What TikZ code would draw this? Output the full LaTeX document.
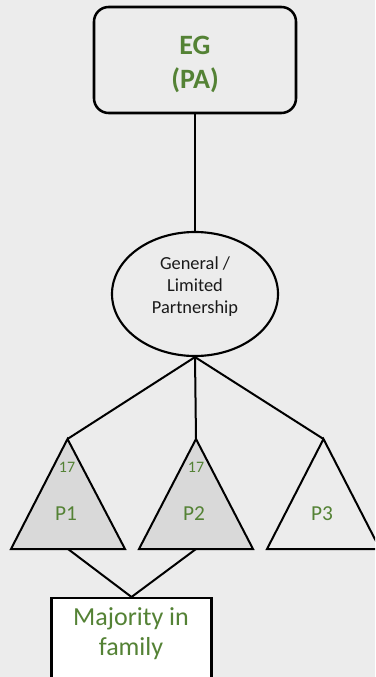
\documentclass[tikz,border=0pt]{standalone}
\usepackage{fontspec}
\setmainfont{Carlito}
\usetikzlibrary{shapes.geometric}
\definecolor{bgc}{HTML}{ECECEC}
\definecolor{grn}{HTML}{548235}
\definecolor{trifill}{HTML}{D9D9D9}
\begin{document}
\begin{tikzpicture}[x=0.75pt,y=-0.75pt,line width=1.5pt,
  conn/.style={draw=black,line width=1.5pt},
  tribox/.style={draw=black,line width=1.5pt,line join=miter},
  egtext/.style={text=grn,align=center,inner sep=0pt,font=\fontsize{21}{25.5}\selectfont\bfseries},
  gptext/.style={text=black!90,align=center,inner sep=0pt,font=\fontsize{13.8}{16.5}\selectfont},
  ptext/.style={text=grn,inner sep=0pt,font=\fontsize{16}{18}\selectfont},
  ntext/.style={text=grn,inner sep=0pt,font=\fontsize{12}{14}\selectfont},
  majtext/.style={text=grn,align=center,inner sep=0pt,font=\fontsize{19.5}{22.5}\selectfont}]
\fill[bgc] (0,0) rectangle (375,677);
\useasboundingbox (0,0) rectangle (375,677);
\clip (0,0) rectangle (375,677);

% top box
\node (eg) [draw,line width=1.9pt,rounded corners=11pt,minimum width=151.5pt,minimum height=79.5pt,inner sep=0pt] at (195,60) {};
\node (egt) [egtext] at (195,64) {EG\\(PA)};

% ellipse
\node (gp) [draw,ellipse,line width=1.6pt,minimum width=124.5pt,minimum height=93pt,inner sep=0pt] at (195,294) {};
\node (gpt) [gptext] at (195,287) {General /\\Limited\\Partnership};

\draw[conn] (eg.south) -- (gp.north);

% triangle corners
\coordinate (p1a) at (67.5,439);
\coordinate (p1l) at (11,549);
\coordinate (p1r) at (125,549);
\coordinate (p1b) at (68,549);
\coordinate (p2a) at (196,439);
\coordinate (p2l) at (139,549);
\coordinate (p2r) at (253,549);
\coordinate (p2b) at (196,549);
\coordinate (p3a) at (323.5,439);
\coordinate (p3l) at (267,549);
\coordinate (p3r) at (380,549);

\draw[conn] (gp.south) -- (p1a);
\draw[conn] (gp.south) -- (p2a);
\draw[conn] (gp.south) -- (p3a);

\draw[tribox,fill=trifill] (p1a) -- (p1l) -- (p1r) -- cycle;
\draw[tribox,fill=trifill] (p2a) -- (p2l) -- (p2r) -- cycle;
\draw[tribox] (p3a) -- (p3l) -- (p3r) -- cycle;

\node (n1) [ntext] at (67,467.5) {17};
\node (n2) [ntext] at (196,467) {17};
\node (t1) [ptext] at (66,514) {P1};
\node (t2) [ptext] at (194,514) {P2};
\node (t3) [ptext] at (322,514) {P3};

% bottom box
\node (maj) [draw,fill=white,line width=1.6pt,anchor=north,minimum width=120pt,minimum height=75pt,inner sep=0pt] at (131.5,597) {};
\draw[conn] (p1b) -- (maj.north);
\draw[conn] (p2b) -- (maj.north);
\node (majt) [majtext] at (131,634) {Majority in\\family};
\end{tikzpicture}
\end{document}
